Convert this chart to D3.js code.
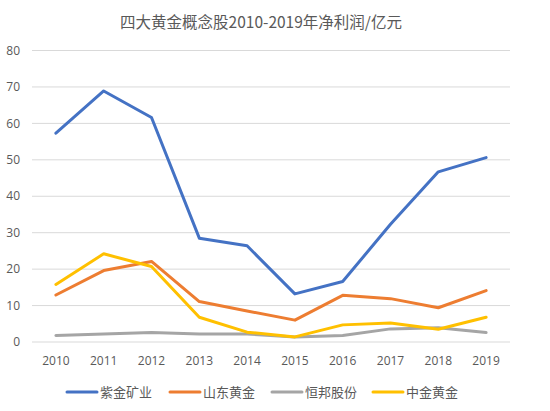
<!DOCTYPE html>
<html>
<head>
<meta charset="utf-8">
<script src="https://cdn.jsdelivr.net/npm/d3@7"></script>
<style>
  body { margin: 0; background: #fff; }
  svg { display: block; font-family: "Noto Sans CJK SC", "Open Sans", sans-serif; }
</style>
</head>
<body>
<svg></svg>
<script>
const years = ['2010', '2011', '2012', '2013', '2014', '2015', '2016', '2017', '2018', '2019'];
const seriesNames = ['紫金矿业', '山东黄金', '恒邦股份', '中金黄金'];
const zijin = [57.3, 68.9, 61.6, 28.5, 26.4, 13.2, 16.6, 32.3, 46.7, 50.6];
const shandong = [12.9, 19.6, 22.1, 11.1, 8.5, 6.0, 12.8, 11.9, 9.4, 14.1];
const hengbang = [1.8, 2.2, 2.6, 2.2, 2.2, 1.4, 1.8, 3.6, 3.9, 2.6];
const zhongjin = [15.8, 24.2, 20.7, 6.8, 2.7, 1.4, 4.7, 5.2, 3.5, 6.8];
const yTicks = [0, 10, 20, 30, 40, 50, 60, 70, 80];
const colors = ['#4472C4', '#ED7D31', '#A5A5A5', '#FFC000'];

const size = {w: 550, h: 411};
const margin = {t: 50.5, r: 40, b: 69, l: 32};
const svg = d3.select('svg')
    .attr('width', size.w)
    .attr('height', size.h);

const x = d3.scaleBand()
    .domain(years)
    .range([margin.l, size.w - margin.r]);
const y = d3.scaleLinear()
    .domain([0, 80])
    .range([size.h - margin.b, margin.t]);

// title
svg.append('text')
    .attr('x', 261)
    .attr('y', 28)
    .attr('text-anchor', 'middle')
    .attr('fill', '#595959')
    .style('font-size', '15.5px')
    .text('四大黄金概念股2010-2019年净利润/亿元');

// gridlines
svg.append('g')
    .selectAll('line')
    .data(yTicks)
    .enter()
    .append('line')
    .attr('x1', margin.l)
    .attr('x2', size.w - margin.r)
    .attr('y1', d => y(d))
    .attr('y2', d => y(d))
    .attr('stroke', '#D9D9D9')
    .attr('stroke-width', 1);

// y labels
svg.append('g')
    .selectAll('text')
    .data(yTicks)
    .enter()
    .append('text')
    .attr('x', 20)
    .attr('y', d => y(d))
    .attr('dy', '0.35em')
    .attr('text-anchor', 'end')
    .attr('fill', '#595959')
    .style('font-size', '12px')
    .style('font-family', '"Open Sans", sans-serif')
    .text(d => d);

// x labels
svg.append('g')
    .selectAll('text')
    .data(years)
    .enter()
    .append('text')
    .attr('x', d => x(d) + x.bandwidth() / 2)
    .attr('y', y(0) + 19)
    .attr('dy', '0.35em')
    .attr('text-anchor', 'middle')
    .attr('fill', '#595959')
    .style('font-size', '12px')
    .style('font-family', '"Open Sans", sans-serif')
    .text(d => d);

// lines
const series = [zijin, shandong, hengbang, zhongjin];
const line = d3.line()
    .x((d, i) => x(years[i]) + x.bandwidth() / 2)
    .y(d => y(d));

svg.append('g')
    .selectAll('path')
    .data(series)
    .enter()
    .append('path')
    .attr('d', d => line(d))
    .attr('fill', 'none')
    .attr('stroke', (d, i) => colors[i])
    .attr('stroke-width', 3)
    .attr('stroke-linejoin', 'round')
    .attr('stroke-linecap', 'round');

// legend
const legendX = [67, 170, 272, 373];
const legend = svg.append('g')
    .selectAll('g')
    .data(seriesNames)
    .enter()
    .append('g')
    .attr('transform', (d, i) => 'translate(' + legendX[i] + ',392)');
legend.append('line')
    .attr('x1', 0)
    .attr('x2', 30)
    .attr('stroke', (d, i) => colors[i])
    .attr('stroke-width', 3)
    .attr('stroke-linecap', 'round');
legend.append('text')
    .attr('x', 33)
    .attr('dy', '0.35em')
    .attr('fill', '#595959')
    .style('font-size', '13px')
    .text(d => d);
</script>
</body>
</html>
